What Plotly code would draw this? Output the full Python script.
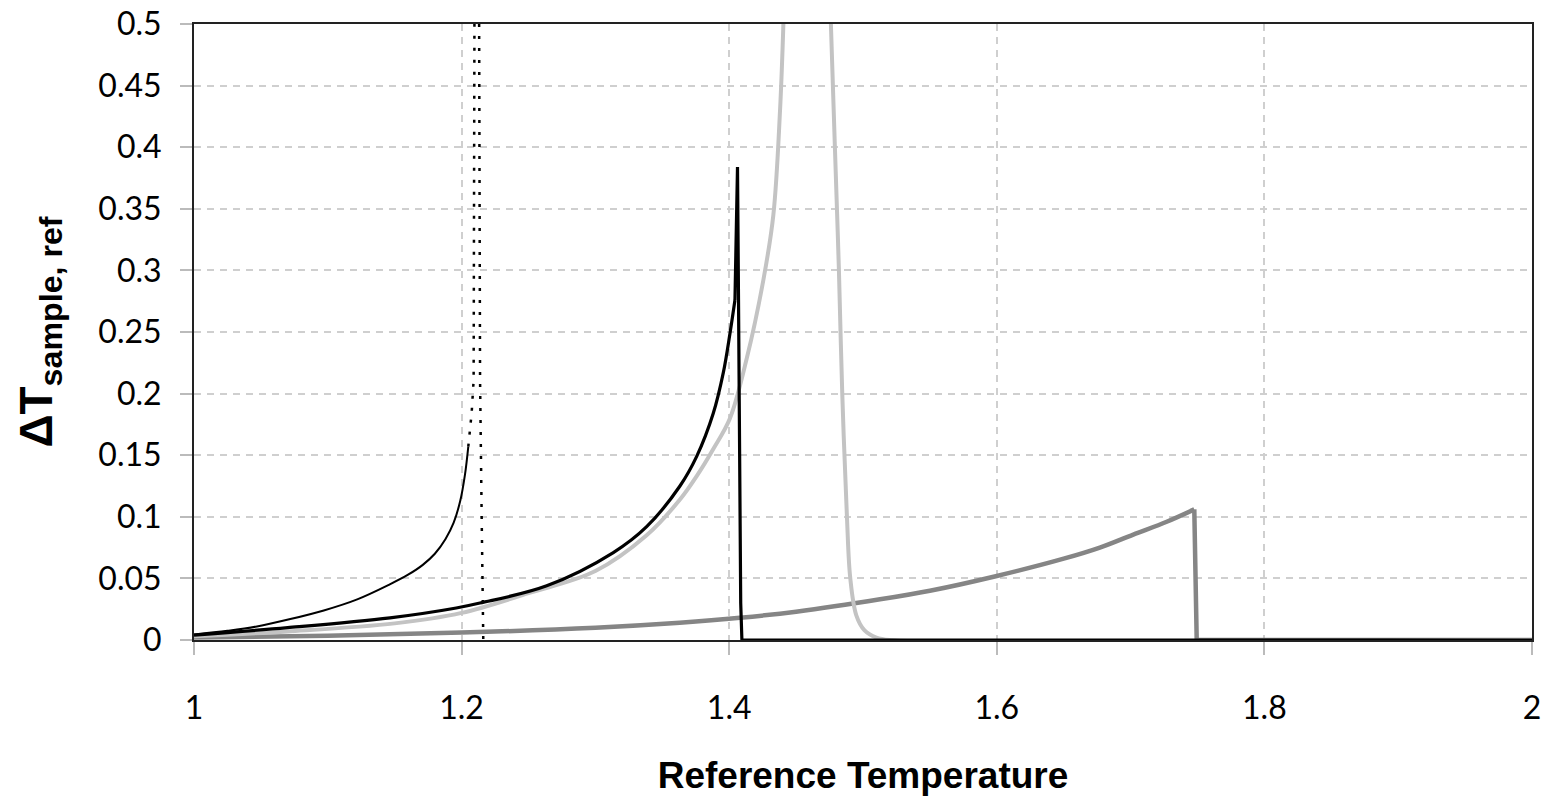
import plotly.graph_objects as go

# values
# thin black curve (solid part, then the dotted run up to the asymptote and back down)
thin_x = [1.0, 1.025, 1.047, 1.072, 1.097, 1.122, 1.146, 1.160, 1.171, 1.180, 1.188, 1.194, 1.199, 1.2025, 1.205]
thin_y = [0.0045, 0.0075, 0.011, 0.017, 0.024, 0.033, 0.045, 0.053, 0.061, 0.070, 0.082, 0.095, 0.113, 0.134, 0.157]
dot_x = [1.205, 1.2075, 1.209, 1.2093, 1.2095, 1.2096, None, 1.2131, 1.2134, 1.2138, 1.2150, 1.2162]
dot_y = [0.157, 0.184, 0.211, 0.30, 0.40, 0.50, None, 0.50, 0.35, 0.211, 0.10, 0.0]

# thick black curve
black_x = [1.0, 1.07, 1.1465, 1.196, 1.2137, 1.2636, 1.3134, 1.3383, 1.3632, 1.3757,
           1.3881, 1.3956, 1.4006, 1.4043]
black_y = [0.004, 0.010, 0.018, 0.026, 0.030, 0.044, 0.071, 0.092, 0.125, 0.149,
           0.184, 0.217, 0.249, 0.276]
black_spike_x = [1.4043, 1.4055, 1.4062, 1.4068, 1.4076, 1.4086, 1.4095, 2.0]
black_spike_y = [0.276, 0.33, 0.384, 0.30, 0.18, 0.03, 0.0, 0.0]

# light grey curve
light_x = [1.0, 1.07, 1.15, 1.2, 1.25, 1.3, 1.3383, 1.3632, 1.3757, 1.3881, 1.4006, 1.413,
           1.4255, 1.433, 1.438, 1.4405]
light_y = [0.003, 0.007, 0.0135, 0.022, 0.038, 0.056, 0.085, 0.114, 0.133, 0.155, 0.180, 0.228,
           0.292, 0.345, 0.43, 0.50]
light_r_x = [1.476, 1.479, 1.482, 1.4845, 1.488, 1.4905, 1.495, 1.501, 1.51, 1.52, 2.0]
light_r_y = [0.50, 0.40, 0.30, 0.20, 0.10, 0.05, 0.02, 0.008, 0.002, 0.0, 0.0]

# dark grey curve
dark_x = [1.0, 1.1, 1.2, 1.3, 1.363, 1.408, 1.45, 1.5127, 1.55, 1.6, 1.65, 1.677,
          1.702, 1.727, 1.7476]
dark_y = [0.002, 0.0035, 0.006, 0.010, 0.014, 0.018, 0.023, 0.033, 0.040, 0.052, 0.066,
          0.075, 0.0856, 0.096, 0.106]
dark_drop_x = [1.7476, 1.7485, 1.7494, 2.0]
dark_drop_y = [0.106, 0.05, 0.0, 0.0]

x_ticks = [1, 1.2, 1.4, 1.6, 1.8, 2]
x_labels = ["1", "1.2", "1.4", "1.6", "1.8", "2"]
y_ticks = [0, 0.05, 0.1, 0.15, 0.2, 0.25, 0.3, 0.35, 0.4, 0.45, 0.5]
y_labels = ["0", "0.05", "0.1", "0.15", "0.2", "0.25", "0.3", "0.35", "0.4", "0.45", "0.5"]

LIGHT = "#c3c3c3"
DARK = "#858585"

fig = go.Figure()


def add(x, y, color, width, shape="spline", dash="solid"):
    fig.add_trace(go.Scatter(
        x=x, y=y, mode="lines",
        line=dict(color=color, width=width, shape=shape, smoothing=1.0, dash=dash),
        connectgaps=False, hoverinfo="skip", showlegend=False,
    ))


add(dark_x, dark_y, DARK, 4.5)
add(dark_drop_x, dark_drop_y, DARK, 4.5, shape="linear")
add(light_x, light_y, LIGHT, 4)
add(light_r_x, light_r_y, LIGHT, 4)
add(black_x, black_y, "black", 3.2)
add(black_spike_x, black_spike_y, "black", 3.2, shape="linear")
add(thin_x, thin_y, "black", 2)
add(dot_x, dot_y, "black", 2.5, shape="linear", dash="3px,9px")

tick_font = dict(family="Lato, Open Sans, sans-serif", size=32, color="black")
title_font = dict(family="Liberation Sans, Arial, sans-serif", size=37, color="black")

fig.update_layout(
    width=1541, height=798,
    margin=dict(l=194, r=9, t=24, b=158),
    paper_bgcolor="white", plot_bgcolor="white",
    xaxis=dict(
        range=[1, 2], tickvals=x_ticks, ticktext=x_labels, automargin=False,
        showline=True, linecolor="#222", linewidth=2, mirror=True,
        showgrid=True, gridcolor="#cfcfcf", gridwidth=1.5, griddash="7px,6px",
        ticks="outside", ticklen=13, tickcolor="#bbb", tickwidth=1.5,
        ticklabelstandoff=26, ticklabeloverflow="allow", tickfont=tick_font, zeroline=False,
        title=dict(text="<b>Reference Temperature</b>", font=title_font, standoff=37),
    ),
    yaxis=dict(
        range=[0, 0.5], tickvals=y_ticks, ticktext=y_labels, automargin=False,
        showline=True, linecolor="#222", linewidth=2, mirror=True,
        showgrid=True, gridcolor="#cfcfcf", gridwidth=1.5, griddash="7px,6px",
        ticks="outside", ticklen=12, tickcolor="#bbb", tickwidth=1.5,
        ticklabelstandoff=12, ticklabeloverflow="allow", tickfont=tick_font, zeroline=False,
        title=dict(text="<b>ΔT<sub>sample, ref</sub></b>",
                   font=dict(family="Liberation Sans, Arial, sans-serif", size=46, color="black"),
                   standoff=31),
    ),
)

# drop the browser's default page margin so the figure sits at the window's corner
fig.write_html("out.html", config={"displayModeBar": False},
               post_script="document.body.style.margin='0';")
